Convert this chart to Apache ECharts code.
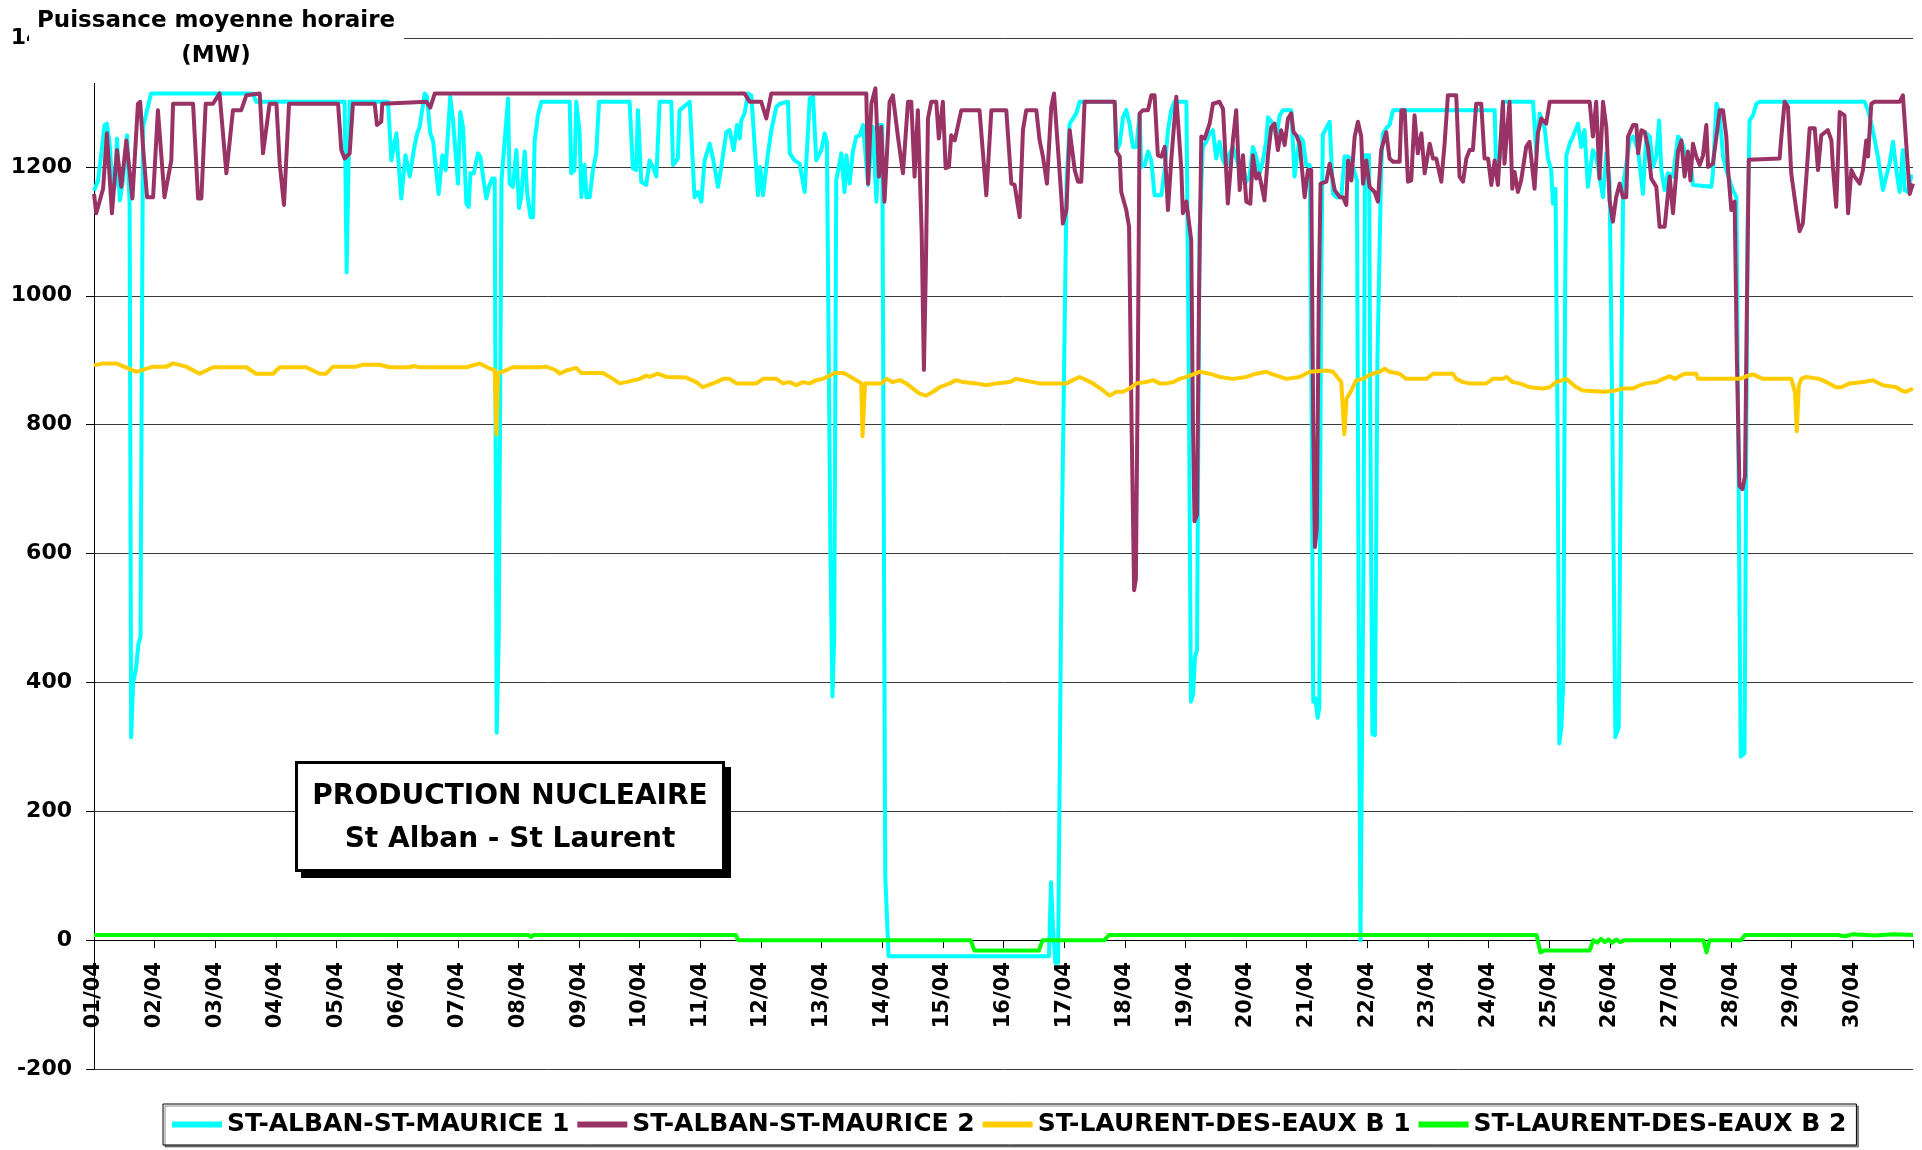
<!DOCTYPE html>
<html>
<head>
<meta charset="utf-8">
<title>Production nucleaire St Alban - St Laurent</title>
<script src="https://cdn.jsdelivr.net/npm/echarts@6/dist/echarts.min.js"></script>
<style>
  html, body { margin: 0; padding: 0; background: #fff; }
  #chart { width: 1922px; height: 1150px; }
</style>
</head>
<body>
<div id="chart"></div>
<script>
// heures depuis le 01/04 00h (MW)
const dayLabels = ['01/04', '02/04', '03/04', '04/04', '05/04', '06/04', '07/04', '08/04', '09/04', '10/04',
    '11/04', '12/04', '13/04', '14/04', '15/04', '16/04', '17/04', '18/04', '19/04', '20/04',
    '21/04', '22/04', '23/04', '24/04', '25/04', '26/04', '27/04', '28/04', '29/04', '30/04'];

const seriesNames = ['ST-ALBAN-ST-MAURICE 1', 'ST-ALBAN-ST-MAURICE 2', 'ST-LAURENT-DES-EAUX B 1', 'ST-LAURENT-DES-EAUX B 2'];

const albanOne = [
    [0, 1163], [1.6, 1179], [2.9, 1221], [4.2, 1265], [5.1, 1267], [6.2, 1236], [7.1, 1179], [8.2, 1169],
    [9.1, 1244], [10.2, 1148], [11.5, 1179], [13.1, 1249], [14.1, 1143], [14.7, 315], [15.5, 400], [16.6, 420],
    [17.6, 460], [18.4, 470], [19.4, 1262], [22.6, 1314], [62.9, 1314], [64.2, 1301], [99.2, 1301], [100, 1036],
    [101.2, 1301], [116.4, 1301], [117.7, 1210], [119.7, 1252], [121.6, 1151], [123.3, 1218], [125, 1185],
    [126.5, 1224], [127.9, 1252], [128.9, 1262], [130.9, 1314], [131.8, 1309], [133.1, 1252], [134.2, 1241],
    [135.2, 1203], [136.4, 1158], [137.9, 1218], [139.2, 1195], [141, 1309], [142.1, 1272], [144.1, 1174],
    [145, 1285], [146.1, 1260], [147.4, 1143], [148.3, 1138], [149, 1190], [150.3, 1190], [152, 1221],
    [152.9, 1216], [154.2, 1179], [155.3, 1151], [156.3, 1169], [157.7, 1182], [158.6, 1182], [159.4, 322],
    [160.2, 470], [161.3, 1179], [163.9, 1306], [164.5, 1174], [165.8, 1169], [167.2, 1226], [168.2, 1136],
    [169.1, 1153], [170.5, 1224], [171.5, 1158], [172.8, 1122], [173.8, 1122], [174.4, 1239], [175.7, 1280],
    [177.1, 1301], [188.3, 1301], [188.9, 1190], [190.2, 1195], [190.9, 1301], [192.2, 1254], [192.9, 1153],
    [194.2, 1203], [194.9, 1153], [196.2, 1153], [197.5, 1195], [198.8, 1221], [199.9, 1301], [212, 1301],
    [213.3, 1198], [214.6, 1195], [215.3, 1288], [216.6, 1177], [218.6, 1172], [219.9, 1210], [221.2, 1200],
    [222.6, 1185], [223.9, 1301], [228.5, 1301], [229.2, 1203], [231.1, 1213], [231.8, 1288], [235.8, 1301],
    [237.7, 1153], [239, 1161], [240.4, 1146], [241.7, 1210], [243.7, 1236], [245, 1213], [247, 1169],
    [248.3, 1200], [250.3, 1254], [251.6, 1257], [253.2, 1226], [254.5, 1265], [255.6, 1244], [256.2, 1272],
    [257.5, 1283], [258.9, 1314], [260.2, 1311], [262.8, 1156], [263.7, 1200], [264.8, 1156], [266.8, 1221],
    [268.1, 1257], [270.1, 1293], [271.4, 1298], [274.7, 1301], [275.4, 1221], [277.3, 1210], [279.3, 1205],
    [281.3, 1161], [283.3, 1306], [284.6, 1309], [285.9, 1210], [287.9, 1226], [289.2, 1252], [290.1, 1239],
    [291.5, 600], [292.3, 378], [293, 470], [293.8, 1179], [295.8, 1221], [297.1, 1161], [297.8, 1218],
    [299.1, 1174], [300.4, 1224], [301.7, 1247], [303.1, 1249], [304.4, 1265], [306.4, 1172], [308.3, 1262],
    [309.7, 1146], [311, 1265], [312, 1265], [313.2, 100], [314.5, -25], [378, -25], [378.8, 90], [379.6, 20],
    [380.5, -35], [381.6, -35], [383, 600], [385, 1180], [386.2, 1267], [388.8, 1283], [390.1, 1301],
    [404, 1301], [404.7, 1224], [406, 1236], [407.3, 1277], [408.6, 1288], [409.9, 1267], [411.2, 1231],
    [412.6, 1231], [413.9, 1283], [414.5, 1200], [415.9, 1203], [417.2, 1224], [418.5, 1210], [419.8, 1156],
    [422.5, 1156], [423.8, 1195], [425.1, 1257], [426.4, 1288], [427.7, 1301], [432.4, 1301], [433.3, 900],
    [434.2, 370], [435, 380], [435.8, 440], [436.6, 450], [437.6, 1100], [438.9, 1231], [440.3, 1239],
    [441.6, 1252], [442.9, 1257], [444.2, 1213], [445.5, 1239], [446.9, 1210], [448.2, 1200], [449.5, 1221],
    [450.8, 1231], [453.5, 1195], [454.8, 1203], [456.1, 1177], [457.4, 1185], [458.7, 1231], [460, 1216],
    [461.4, 1190], [462.7, 1210], [464, 1241], [464.7, 1277], [466.6, 1267], [468, 1247], [469.3, 1280],
    [470.6, 1288], [473.9, 1288], [475.2, 1185], [477.2, 1247], [478.5, 1241], [479.8, 1203], [481.2, 1203],
    [482, 800], [482.6, 370], [483.5, 375], [484.3, 345], [485, 360], [485.7, 1000], [486.4, 1250],
    [489.1, 1270], [490.4, 1158], [491.7, 1153], [493.7, 1153], [495, 1216], [496.4, 1216], [497.3, 1213],
    [499.9, 1179], [500.6, 500], [501.3, 0], [501.8, 0], [502.5, 600], [503.1, 1218], [504.7, 1218],
    [505.2, 800], [506, 320], [507, 318], [508, 900], [509.5, 1200], [510.2, 1252], [511.5, 1260],
    [512.8, 1265], [514.2, 1288], [554.4, 1288], [555, 1195], [556.4, 1213], [557.7, 1301], [569.6, 1301],
    [570.9, 1221], [572.2, 1283], [574.2, 1260], [575.5, 1213], [576.8, 1195], [577.5, 1143], [578.5, 1166],
    [579.3, 800], [580, 305], [580.8, 330], [581.6, 400], [582.3, 1000], [582.8, 1218], [584.1, 1236],
    [585.4, 1247], [587.4, 1267], [588.7, 1231], [590, 1257], [591.3, 1169], [593.3, 1226], [594.6, 1216],
    [595.9, 1185], [597.3, 1153], [598.6, 1221], [599.9, 1179], [601, 800], [602.2, 315], [603.5, 330],
    [604.6, 900], [605.3, 1174], [607.9, 1241], [609.2, 1247], [611.2, 1226], [613.1, 1158], [614.5, 1252],
    [615.8, 1247], [617.1, 1200], [618.4, 1216], [619.5, 1272], [620.4, 1195], [621.7, 1164], [623, 1190],
    [625, 1185], [627, 1247], [628.3, 1241], [630.3, 1216], [632.3, 1195], [632.9, 1172], [640.2, 1169],
    [640.8, 1190], [642.2, 1298], [643.5, 1283], [644.8, 1216], [646.1, 1195], [648.7, 1164], [650.1, 1153],
    [651, 700], [651.8, 285], [653.3, 290], [654.5, 1100], [655.3, 1272], [656.7, 1280], [658, 1298],
    [659.3, 1301], [700.8, 1301], [702.2, 1288], [704.1, 1257], [706.1, 1216], [708.1, 1164], [709.4, 1185],
    [710.7, 1205], [712.1, 1239], [713.4, 1195], [714.7, 1161], [716, 1226], [716.7, 1164], [718, 1161],
    [719.3, 1185], [720, 1185]
];

const albanTwo = [
    [0, 1158], [0.9, 1128], [3.6, 1166], [5.1, 1252], [7.1, 1128], [9.1, 1226], [10.8, 1169], [12.8, 1241],
    [15.2, 1151], [17.4, 1298], [18.3, 1301], [19.4, 1231], [21, 1153], [23.4, 1153], [25.3, 1288],
    [27.9, 1153], [30.6, 1210], [31.3, 1298], [39.2, 1298], [41.2, 1151], [42.5, 1151], [44.2, 1298],
    [47.1, 1298], [49.7, 1314], [52.4, 1190], [55, 1288], [58.3, 1288], [60.3, 1311], [65.6, 1314],
    [66.9, 1221], [69.5, 1298], [72.2, 1298], [73.5, 1205], [75.2, 1141], [77.2, 1298], [96.6, 1298],
    [97.9, 1226], [99.2, 1213], [101.2, 1221], [102.5, 1298], [111.1, 1298], [112, 1265], [113.7, 1270],
    [114.1, 1298], [131.6, 1301], [133.1, 1292], [134.9, 1314], [257.5, 1314], [259.5, 1301], [264.1, 1301],
    [266.1, 1275], [268.1, 1314], [305.7, 1314], [306.4, 1174], [307.7, 1298], [309.3, 1322], [310.7, 1185],
    [311.6, 1262], [312.9, 1146], [314.9, 1301], [316.2, 1311], [318.2, 1247], [320.2, 1190], [322.2, 1301],
    [323.5, 1301], [324.8, 1185], [326.1, 1288], [327.6, 1100], [328.5, 885], [329.3, 1050], [330.1, 1275],
    [331.4, 1301], [333.4, 1301], [334.4, 1244], [336, 1301], [337.1, 1198], [338.4, 1200], [339.3, 1249],
    [340.7, 1241], [343.3, 1288], [350.5, 1288], [353.2, 1156], [355.2, 1288], [361.1, 1288], [363.1, 1174],
    [364.4, 1172], [366.4, 1122], [367.7, 1257], [369, 1288], [373, 1288], [374.3, 1241], [375.6, 1216],
    [377.2, 1174], [378.9, 1293], [380, 1314], [381.6, 1226], [382.9, 1153], [383.5, 1112], [384.9, 1133],
    [386.2, 1257], [388.2, 1195], [389.5, 1177], [390.8, 1177], [392.1, 1301], [404, 1301], [404.7, 1224],
    [406, 1216], [406.6, 1161], [408.6, 1133], [409.7, 1107], [410.7, 800], [411.7, 543], [412.4, 560],
    [413.2, 900], [413.9, 1283], [415.2, 1288], [417.2, 1288], [418.5, 1311], [419.8, 1311], [421.1, 1218],
    [422.5, 1216], [423.8, 1231], [425.1, 1133], [426.4, 1210], [428.4, 1309], [429, 1311], [430.4, 1195],
    [431, 1128], [432.4, 1146], [434.3, 1086], [435, 800], [435.6, 650], [436.6, 660], [437.4, 1000],
    [438.3, 1247], [439.6, 1244], [441.6, 1267], [442.9, 1298], [445.5, 1301], [446.9, 1290], [448.8, 1143],
    [450.8, 1241], [452.1, 1288], [453.5, 1164], [454.8, 1218], [456.1, 1146], [457.7, 1143], [458.7, 1218],
    [460, 1182], [461.1, 1190], [462, 1174], [463.3, 1148], [464.7, 1218], [466, 1262], [467.3, 1267],
    [468.6, 1226], [469.9, 1257], [471.3, 1234], [472.6, 1275], [473.9, 1283], [474.8, 1254], [475.9, 1249],
    [477.2, 1236], [479.2, 1153], [480.5, 1195], [481.8, 1195], [482.6, 800], [483.3, 610], [484, 640],
    [484.8, 1000], [485.5, 1174], [487.8, 1177], [489.1, 1205], [491.1, 1164], [493.1, 1153], [494.4, 1153],
    [495.7, 1141], [496.4, 1210], [497.7, 1179], [499, 1247], [500.3, 1270], [501.6, 1247], [502.3, 1174],
    [503.6, 1210], [504.9, 1169], [506.9, 1161], [508.2, 1146], [509.5, 1226], [511.5, 1254], [512.8, 1213],
    [514.2, 1208], [516.8, 1208], [517.5, 1288], [518.8, 1288], [520.1, 1177], [521.4, 1179], [522.7, 1280],
    [524, 1221], [525.4, 1252], [526.7, 1190], [528.7, 1236], [530, 1213], [531.3, 1213], [533.3, 1177],
    [534.6, 1236], [535.9, 1311], [539.2, 1311], [540.5, 1185], [541.9, 1177], [543.2, 1213], [544.5, 1226],
    [545.8, 1226], [547.1, 1298], [549.1, 1298], [550.4, 1213], [551.8, 1213], [553.1, 1172], [554.4, 1210],
    [555.7, 1172], [557.7, 1301], [558.3, 1205], [560.3, 1301], [561.4, 1166], [562.3, 1192], [563.6, 1161],
    [564.9, 1179], [566.9, 1231], [568.2, 1239], [570.2, 1166], [571.5, 1252], [572.9, 1275], [574.8, 1267],
    [576.2, 1301], [592, 1301], [593.3, 1247], [594.6, 1301], [595.9, 1182], [597.3, 1301], [598.6, 1262],
    [599.9, 1148], [601.2, 1115], [602.5, 1153], [603.9, 1174], [605.2, 1153], [606.5, 1153], [607.2, 1247],
    [609.2, 1265], [610.5, 1265], [611.2, 1221], [612.5, 1257], [613.8, 1254], [615.1, 1231], [616.4, 1182],
    [618.4, 1169], [619.7, 1107], [621.7, 1107], [623.7, 1185], [625, 1128], [627, 1224], [628.3, 1241],
    [629.6, 1185], [630.9, 1224], [631.9, 1179], [632.9, 1236], [634.2, 1216], [635.6, 1203], [636.9, 1218],
    [638.2, 1265], [638.9, 1200], [640.8, 1205], [642.2, 1247], [643.5, 1288], [644.8, 1288], [646.1, 1247],
    [646.8, 1195], [648.1, 1133], [649.4, 1146], [650.3, 900], [651.3, 705], [652.5, 700], [653.5, 720],
    [654.3, 1000], [655, 1211], [667.2, 1213], [667.9, 1247], [669.2, 1301], [670.5, 1293], [671.8, 1190],
    [673.8, 1133], [675.1, 1100], [676.4, 1112], [677.8, 1185], [679.1, 1260], [681.1, 1260], [682.4, 1195],
    [683.7, 1249], [686.3, 1257], [687.7, 1241], [688.3, 1200], [689.6, 1138], [691, 1285], [692.9, 1280],
    [694.3, 1128], [695.6, 1195], [696.9, 1185], [698.9, 1174], [700.2, 1195], [701.5, 1241], [702.2, 1216],
    [703.5, 1298], [704.8, 1301], [714.7, 1301], [716, 1311], [716.7, 1308], [718.7, 1158], [720, 1174]
];

const laurentOne = [
    [0, 892], [3.6, 895], [8.8, 895], [16.8, 882], [23.4, 890], [28.6, 890], [31.3, 895], [36.5, 890],
    [41.8, 879], [47.1, 889], [60.3, 889], [64.2, 879], [70.9, 879], [73.5, 889], [84, 889], [89.3, 879],
    [91.9, 879], [94.6, 890], [103.8, 890], [106.5, 893], [113.1, 893], [117, 889], [124.9, 889],
    [126.5, 891], [129, 889], [147.4, 889], [152.7, 895], [156.6, 887], [158.6, 885], [159.3, 785],
    [159.9, 880], [161.6, 882], [165.8, 889], [176.4, 889], [179, 890], [183, 884], [184.3, 879], [187, 884],
    [190.9, 888], [192.9, 880], [201.5, 880], [205.4, 871], [208, 864], [210.7, 866], [216, 871],
    [218.6, 876], [219.9, 874], [223.2, 879], [226.5, 874], [234.4, 873], [238.4, 866], [241, 858],
    [243.7, 862], [246.3, 866], [249, 871], [251.6, 871], [254.3, 864], [262.2, 864], [264.8, 871],
    [270.1, 871], [272.7, 864], [275.4, 866], [278, 861], [280.6, 866], [283.3, 864], [285.9, 869],
    [288.5, 871], [291.2, 876], [293.2, 880], [296.5, 880], [297.8, 878], [301.7, 869], [303.7, 864],
    [304.2, 782], [305.2, 864], [311.6, 864], [313.6, 871], [316.2, 866], [318.9, 869], [321.5, 864],
    [324.2, 856], [326.8, 848], [329.4, 845], [332.1, 851], [334.7, 858], [338.7, 864], [341.3, 869],
    [343.9, 866], [349.2, 864], [353.2, 861], [357.1, 864], [362.4, 866], [365, 871], [371.7, 866],
    [374.3, 864], [384.9, 864], [387.5, 869], [390.1, 874], [392.8, 869], [395.4, 864], [399.4, 853],
    [402, 845], [404.7, 851], [407.3, 851], [409.9, 856], [412.6, 864], [416.5, 866], [419.2, 869],
    [421.8, 864], [424.4, 864], [427.1, 866], [429.7, 871], [432.4, 874], [437.6, 882], [441.6, 879],
    [445.5, 874], [450.8, 871], [456.1, 874], [460, 879], [464, 882], [466.6, 878], [471.9, 871],
    [477.2, 874], [481.2, 882], [487.8, 884], [490.4, 882], [491.7, 876], [493.7, 866], [494.9, 785],
    [495.8, 840], [497.7, 853], [499.6, 869], [502.3, 871], [504.3, 876], [506.2, 879], [508.9, 882],
    [510.9, 887], [512.8, 882], [516.8, 879], [519.4, 871], [527.4, 871], [530, 879], [537.9, 879],
    [539.2, 871], [541.9, 866], [544.5, 864], [551.1, 864], [553.7, 871], [557.7, 871], [559, 874],
    [561.6, 866], [564.3, 864], [568.2, 858], [573.5, 856], [576.2, 858], [578.8, 866], [582.8, 871],
    [586.7, 858], [589.3, 853], [597.3, 851], [601.2, 852], [605.2, 856], [609.2, 856], [611.8, 861],
    [614.5, 864], [618.4, 866], [621, 871], [623.7, 875], [625.7, 871], [627.6, 875], [629.6, 879],
    [634.2, 879], [634.9, 871], [651.4, 871], [654, 875], [656.7, 878], [660.6, 871], [671.8, 871],
    [673.3, 850], [674, 790], [674.8, 860], [675.8, 871], [677.8, 874], [683, 871], [685.7, 866],
    [689.6, 858], [691.6, 858], [694.9, 864], [700.2, 866], [704.1, 869], [708.1, 861], [713.4, 858],
    [715.4, 853], [717.3, 851], [720, 856]
];

const laurentTwo = [
    [0, 8], [172, 8], [173, 5], [174, 8], [254, 8], [255, 0], [347, 0], [348.5, -16], [374, -16], [375.5, 0],
    [400, 0], [401.7, 8], [571, 8], [572.5, -19], [574, -16], [592, -16], [593.5, 0], [595, -4], [596.5, 2],
    [598, -3], [599.5, 1], [601, -4], [602.5, 1], [604, -3], [606, 0], [637, 0], [638.3, -19], [639.5, 0],
    [652, 0], [653.5, 8], [690, 8], [693, 6], [696, 9], [705, 7], [712, 9], [720, 8]
];

const lineColors = ['#00FFFF', '#993366', '#FFCC00', '#00FF00'];
const seriesData = [albanOne, albanTwo, laurentOne, laurentTwo];

const FONT = '"DejaVu Sans", "Liberation Sans", Arial, sans-serif';

const chart = echarts.init(document.getElementById('chart'), null, { renderer: 'canvas' });

// hauteur de la zone de trace et decalage de l'axe des dates sur la ligne 0
const plotHeight = 1150 - 38 - 81;
const zeroOffset = -plotHeight * 200 / 1600;

const option = {
    animation: false,
    backgroundColor: '#ffffff',
    grid: { left: 94, right: 9, top: 38, bottom: 81 },
    xAxis: {
        type: 'value',
        min: 0,
        max: 720,
        interval: 24,
        position: 'bottom',
        offset: zeroOffset,
        axisLine: { onZero: false, lineStyle: { color: '#000', width: 1 } },
        axisTick: { show: true, length: 8, lineStyle: { color: '#000' } },
        axisLabel: {
            rotate: 90,
            margin: 22,
            color: '#000',
            fontFamily: FONT,
            fontWeight: 'bold',
            fontSize: 21,
            formatter: v => dayLabels[Math.round(v / 24)] || ''
        },
        splitLine: { show: false }
    },
    yAxis: {
        type: 'value',
        min: -200,
        max: 1400,
        interval: 200,
        axisLine: { show: true, lineStyle: { color: '#000', width: 1 } },
        axisTick: { show: true, length: 8, lineStyle: { color: '#000' } },
        axisLabel: {
            margin: 22,
            color: '#000',
            fontFamily: FONT,
            fontWeight: 'bold',
            fontSize: 22,
            formatter: v => String(v)
        },
        splitLine: { show: true, lineStyle: { color: '#3a3a3a', width: 1 } }
    },
    legend: {
        left: 163,
        top: 1104,
        itemWidth: 50,
        itemHeight: 6,
        itemGap: 8,
        icon: 'rect',
        padding: [8, 10, 8, 9],
        borderColor: '#000',
        borderWidth: 1,
        shadowColor: 'rgba(0,0,0,0.45)',
        shadowOffsetX: 2,
        shadowOffsetY: 2,
        backgroundColor: '#fff',
        textStyle: { color: '#000', fontFamily: FONT, fontWeight: 'bold', fontSize: 25 },
        data: seriesNames
    },
    series: seriesNames.map((name, i) => ({
        name: name,
        type: 'line',
        data: seriesData[i],
        showSymbol: false,
        symbol: 'none',
        color: lineColors[i],
        lineStyle: { color: lineColors[i], width: 4, join: 'round' },
        z: 2 + i
    })),
    graphic: [
        // bandeau blanc du titre de l'axe (masque le haut de l'axe et le libelle 1400)
        {
            type: 'rect', z: 100,
            shape: { x: 29, y: 0, width: 375, height: 83 },
            style: { fill: '#fff' }
        },
        {
            type: 'text', z: 101,
            style: {
                x: 216, y: 39,
                text: 'Puissance moyenne horaire\n(MW)',
                font: 'bold 23px ' + FONT,
                fill: '#000',
                textAlign: 'center',
                textVerticalAlign: 'middle',
                lineHeight: 35
            }
        },
        // cartouche PRODUCTION NUCLEAIRE
        {
            type: 'rect', z: 100,
            shape: { x: 301, y: 767, width: 430, height: 111 },
            style: { fill: '#000' }
        },
        {
            type: 'rect', z: 101,
            shape: { x: 296.5, y: 762.5, width: 427, height: 108 },
            style: { fill: '#fff', stroke: '#000', lineWidth: 3 }
        },
        {
            type: 'text', z: 102,
            style: {
                x: 510, y: 818,
                text: 'PRODUCTION NUCLEAIRE\nSt Alban - St Laurent',
                font: 'bold 28px ' + FONT,
                fill: '#000',
                textAlign: 'center',
                textVerticalAlign: 'middle',
                lineHeight: 43
            }
        }
    ]
};

chart.setOption(option);
window.addEventListener('resize', () => chart.resize());
</script>
</body>
</html>
